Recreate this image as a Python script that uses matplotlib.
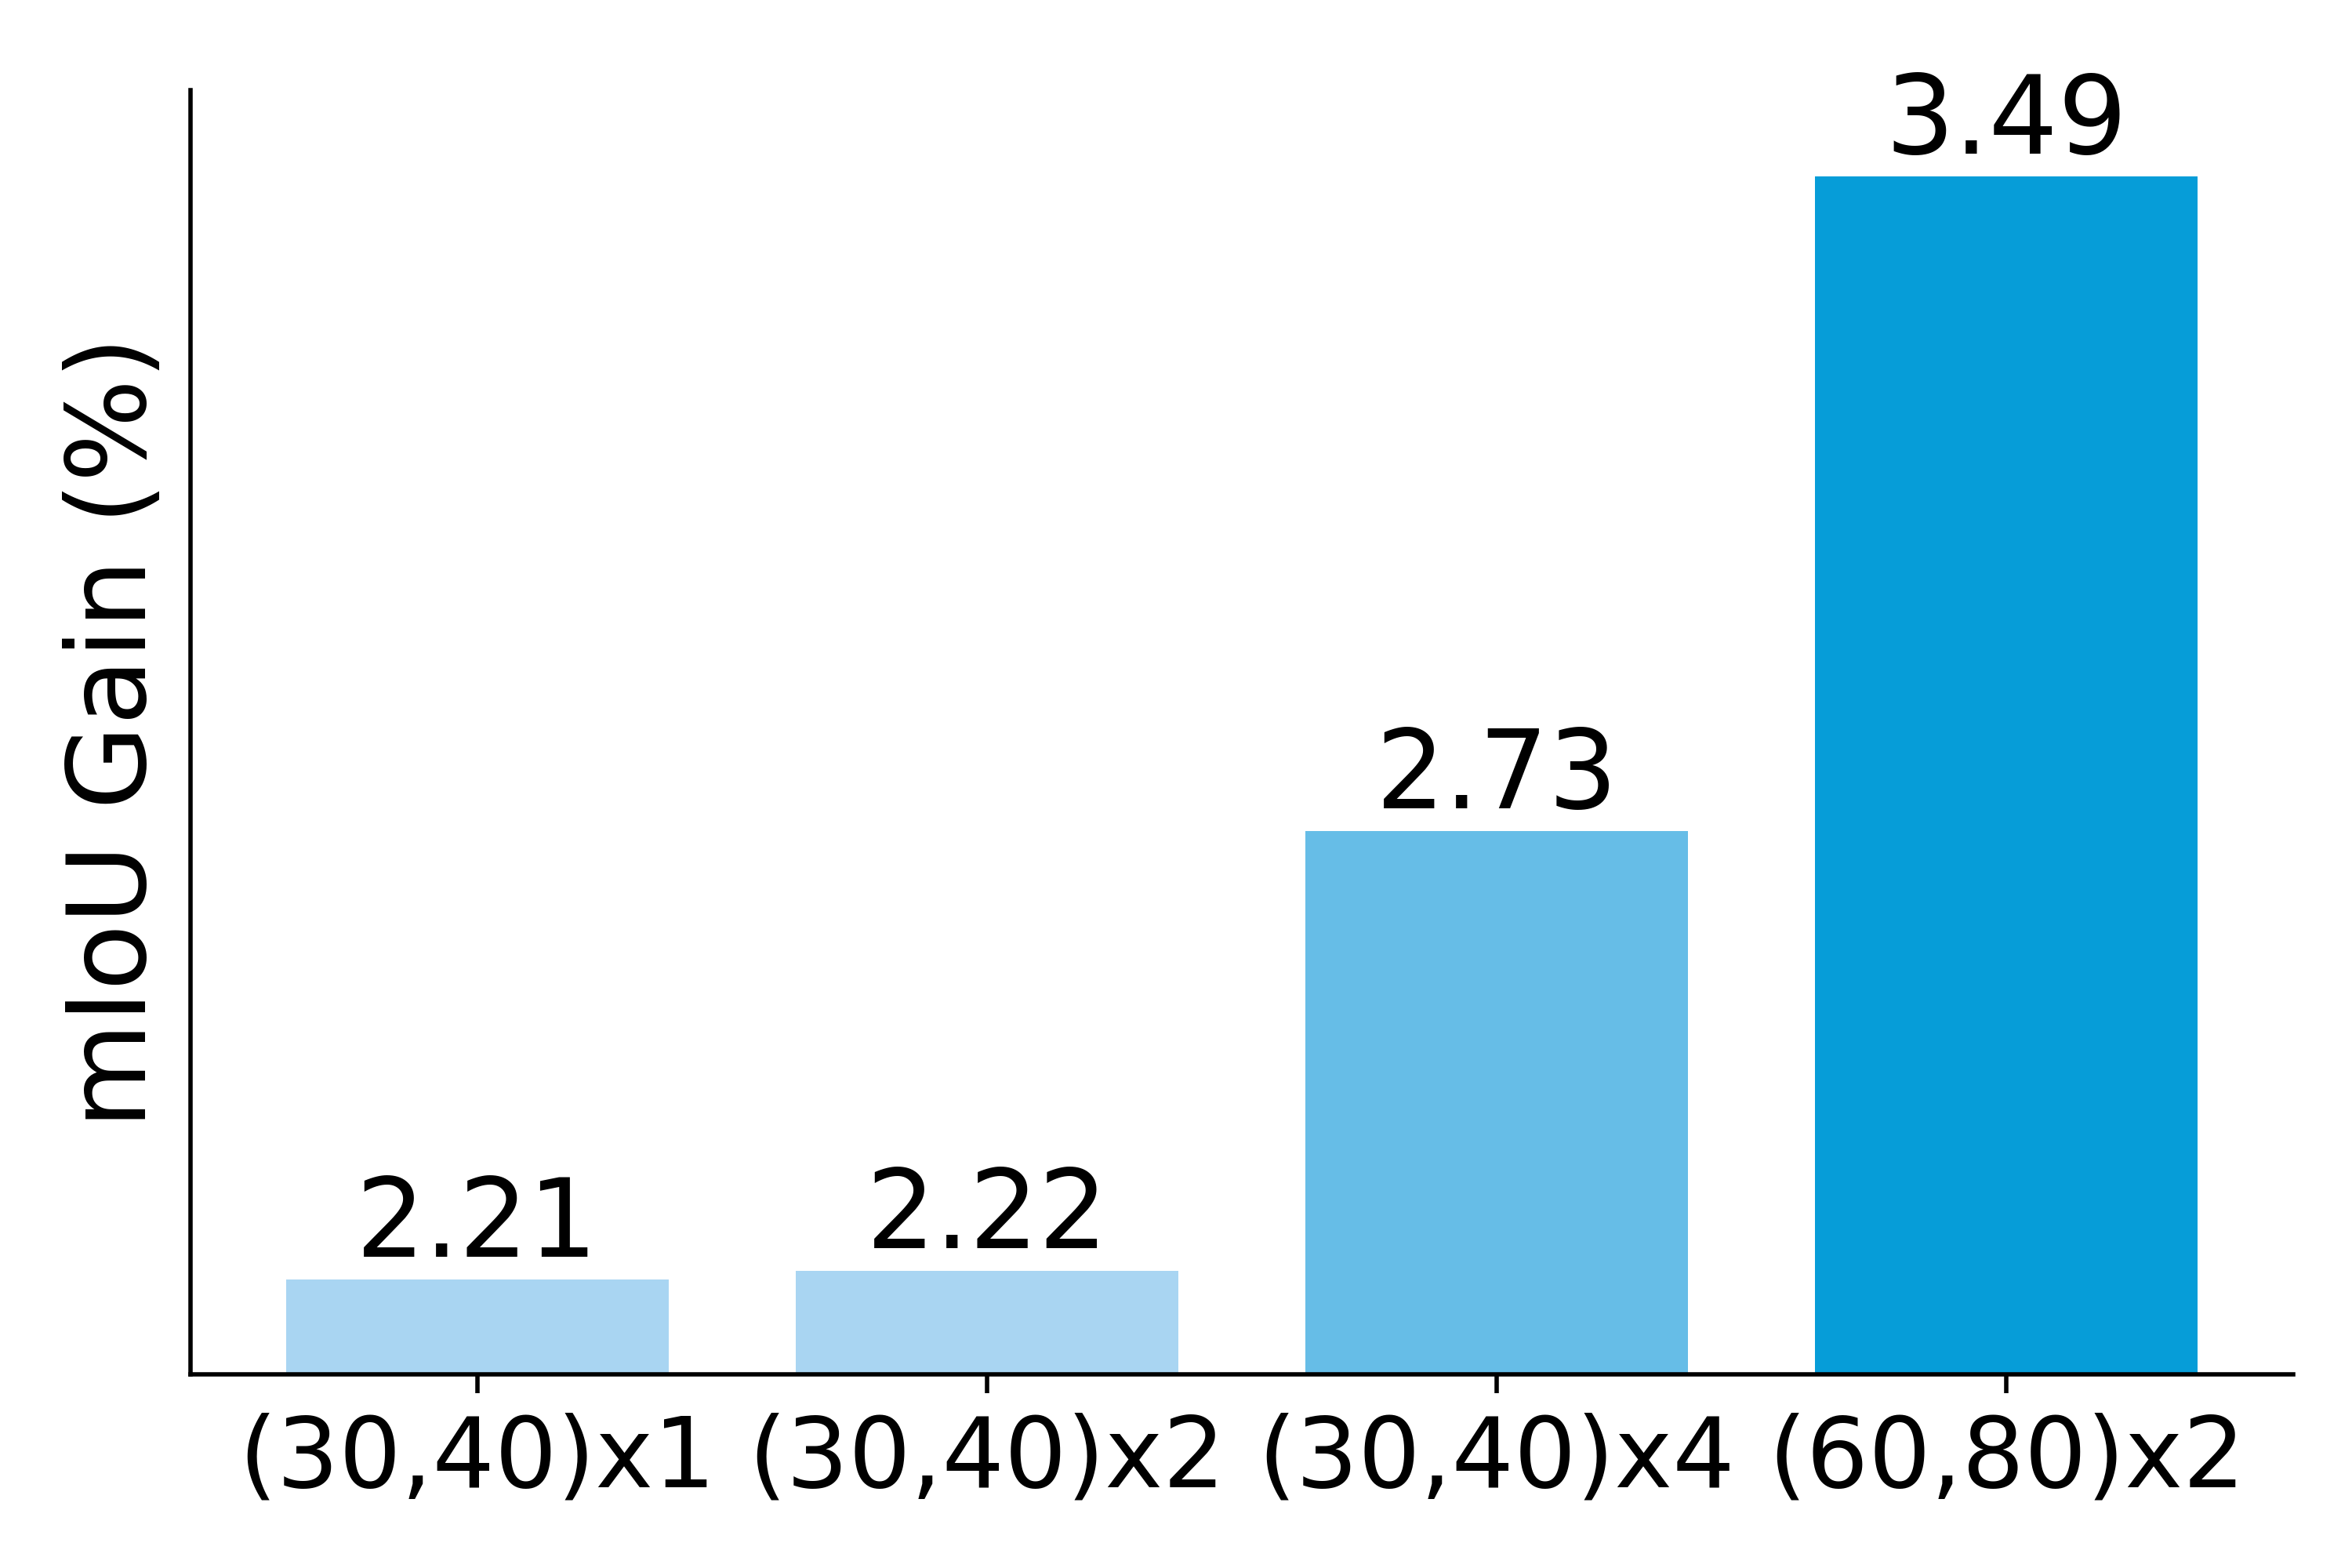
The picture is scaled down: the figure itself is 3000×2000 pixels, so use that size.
import matplotlib.pyplot as plt


configs = ["(30,40)x1", "(30,40)x2", "(30,40)x4", "(60,80)x2"]
gains = [2.21, 2.22, 2.73, 3.49]
colors = ["#a9d5f2", "#a9d5f2", "#66bde7", "#069dd8"]


fig, ax = plt.subplots(figsize=(6, 4), dpi=500)
fig.subplots_adjust(left=0.081, right=0.975, bottom=0.1235, top=0.9425)

x = range(len(configs))
bars = ax.bar(x, gains, width=0.75, color=colors)
ax.bar_label(bars, labels=["%.2f" % g for g in gains], fontsize=20)

ax.set_ylim(2.1, 3.59)
ax.set_xticks(list(x))
ax.set_xticklabels(configs, fontsize=18)
ax.set_yticks([])
ax.set_ylabel("mIoU Gain (%)", fontsize=20)

ax.spines["top"].set_visible(False)
ax.spines["right"].set_visible(False)

plt.savefig("out.png")
